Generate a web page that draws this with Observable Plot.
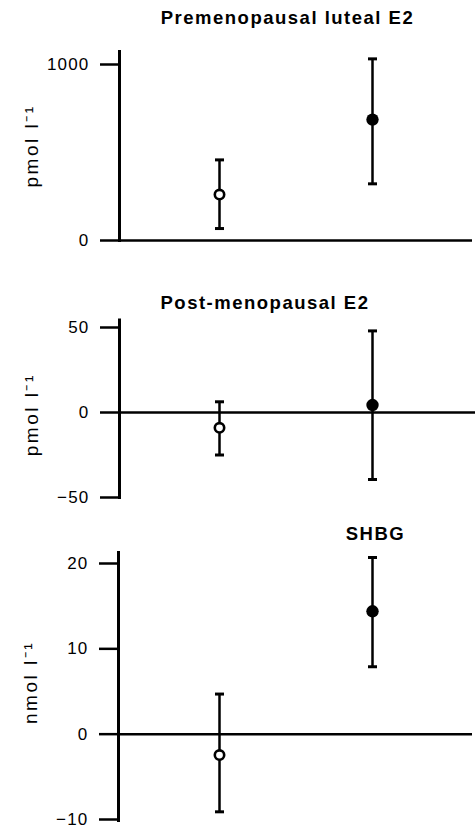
<!DOCTYPE html>
<html>
<head>
<meta charset="utf-8">
<script src="https://cdn.jsdelivr.net/npm/d3@7"></script>
<script src="https://cdn.jsdelivr.net/npm/@observablehq/plot@0.6"></script>
<style>
  html, body { margin: 0; padding: 0; background: #fff; }
  #chart svg { display: block; }
  #chart g[aria-label="y-axis tick label"] text { letter-spacing: 1.2px; }
</style>
</head>
<body>
<div id="chart"></div>
<script>
// Groups (open circle, filled circle)
const groups = ["Control", "Treated"];

// Panel titles and units
const titles = ["Premenopausal luteal E2", "Post-menopausal E2", "SHBG"];
const units = ["pmol l⁻¹", "pmol l⁻¹", "nmol l⁻¹"];

// Premenopausal luteal E2 (pmol l-1)
const preMean = [261, 687];
const preLow = [68, 322];
const preHigh = [458, 1032];
const preTicks = [0, 1000];

// Post-menopausal E2 (pmol l-1)
const postMean = [-9, 4.4];
const postLow = [-25, -39.4];
const postHigh = [6.3, 48];
const postTicks = [-50, 0, 50];

// SHBG (nmol l-1)
const shbgMean = [-2.45, 14.4];
const shbgLow = [-9.1, 7.9];
const shbgHigh = [4.7, 20.7];
const shbgTicks = [-10, 0, 10, 20];

const capSymbol = {
  draw(ctx, size) {
    const r = Math.sqrt(size / Math.PI);
    ctx.moveTo(-r, 0);
    ctx.lineTo(r, 0);
  }
};

const fmt = d => d < 0 ? "\u2212" + Math.abs(d) : String(d);

function panel(cfg) {
  const rows = groups.map((g, i) => ({
    g, mean: cfg.mean[i], low: cfg.low[i], high: cfg.high[i], open: i === 0
  }));
  const svg = Plot.plot({
    width: 475,
    height: cfg.height,
    marginTop: cfg.marginTop,
    marginBottom: cfg.marginBottom,
    marginLeft: cfg.marginLeft,
    marginRight: cfg.marginRight,
    x: {type: "point", domain: groups, range: [219, 372], padding: 0, axis: null},
    y: {domain: cfg.domain, range: cfg.yRange, axis: null},
    style: {fontFamily: "'Liberation Sans', Arial, sans-serif", background: "white", color: "black", overflow: "visible"},
    marks: [
      Plot.ruleY([0], {strokeWidth: 2.5}),
      Plot.frame({anchor: "left", strokeWidth: 3}),
      Plot.axisY({ticks: cfg.ticks, tickFormat: fmt, tickSize: 19, tickPadding: 11, strokeWidth: 2.5, fontSize: 17, label: null}),
      Plot.ruleX(rows, {x: "g", y1: "low", y2: "high", strokeWidth: 2.5}),
      Plot.dot(rows, {x: "g", y: "low", symbol: capSymbol, r: 4.5, fill: "none", stroke: "black", strokeWidth: 3}),
      Plot.dot(rows, {x: "g", y: "high", symbol: capSymbol, r: 4.5, fill: "none", stroke: "black", strokeWidth: 3}),
      Plot.dot(rows, {filter: d => d.open, x: "g", y: "mean", r: 4.7, fill: "white", stroke: "black", strokeWidth: 2.6}),
      Plot.dot(rows, {filter: d => !d.open, x: "g", y: "mean", r: 6.2, fill: "black", stroke: "none"}),
      Plot.text([cfg.title], {frameAnchor: "top", dx: cfg.titleDx, dy: cfg.titleDy, lineAnchor: "bottom",
        fontSize: 18.5, fontWeight: "bold"}),
      Plot.text([cfg.unit], {frameAnchor: "left", dx: -88, dy: cfg.unitDy, rotate: -90, lineAnchor: "middle",
        textAnchor: "middle", fontSize: 19})
    ]
  });
  svg.querySelectorAll("text").forEach(t => {
    if (t.textContent === cfg.title) t.style.letterSpacing = "1.5px";
    else if (t.textContent === cfg.unit) t.style.letterSpacing = "2.5px";
  });
  return svg;
}

const chart = document.getElementById("chart");
chart.append(panel({
  title: titles[0], unit: units[0], mean: preMean, low: preLow, high: preHigh, ticks: preTicks,
  domain: [0, 1000], yRange: [240, 64], height: 270, marginTop: 51, marginBottom: 30,
  marginLeft: 119, marginRight: 3, titleDx: -8.5, titleDy: -28, unitDy: 0
}));
chart.append(panel({
  title: titles[1], unit: units[1], mean: postMean, low: postLow, high: postHigh, ticks: postTicks,
  domain: [-50, 50], yRange: [227, 57], height: 230, marginTop: 49.5, marginBottom: 3,
  marginLeft: 119, marginRight: 0, titleDx: -32.5, titleDy: -11.5, unitDy: 6
}));
chart.append(panel({
  title: titles[2], unit: units[2], mean: shbgMean, low: shbgLow, high: shbgHigh, ticks: shbgTicks,
  domain: [-10, 20], yRange: [319, 63], height: 330, marginTop: 52, marginBottom: 10,
  marginLeft: 118, marginRight: 3, titleDx: 80, titleDy: -13, unitDy: -4
}));
</script>
</body>
</html>
